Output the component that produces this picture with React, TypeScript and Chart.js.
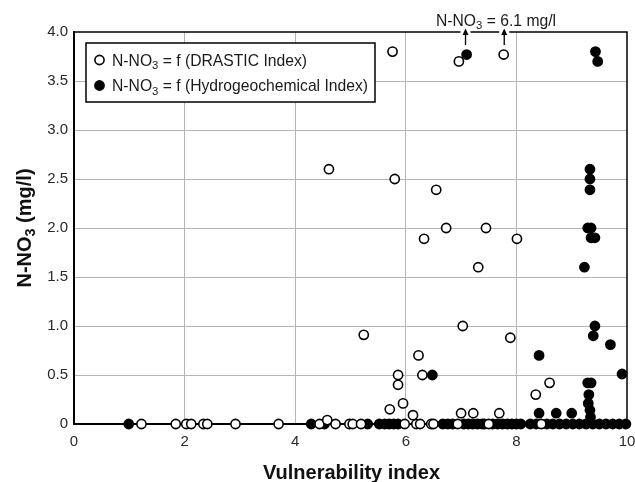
import React, { useEffect, useRef } from "react";
import { Chart, registerables } from "chart.js";
Chart.register(...registerables);

// DRASTIC index series (open circles)
const drasticIndex = [
  1.22, 1.84, 2.03, 2.12, 2.34, 2.41, 2.92, 3.7, 4.44, 4.73, 4.98, 5.04, 5.19, 5.98, 6.19, 6.26, 6.46, 6.5, 6.94, 7.5, 8.45,
  4.58, 5.71, 5.95, 6.13, 7.0, 7.22, 7.69, 5.24, 7.03, 6.23, 5.86, 5.86, 6.3, 7.89, 8.6, 8.35,
  4.61, 5.8, 6.55, 6.33, 6.73, 7.45, 8.01, 7.31, 6.96, 7.77, 5.76,
];
const drasticNitrate = [
  0, 0, 0, 0, 0, 0, 0, 0, 0, 0, 0, 0, 0, 0, 0, 0, 0, 0, 0, 0, 0,
  0.04, 0.15, 0.21, 0.09, 0.11, 0.11, 0.11, 0.91, 1.0, 0.7, 0.5, 0.4, 0.5, 0.88, 0.42, 0.3,
  2.6, 2.5, 2.39, 1.89, 2.0, 2.0, 1.89, 1.6, 3.7, 3.77, 3.8,
];

// Hydrogeochemical index series (filled circles)
const hydroIndex = [
  0.99, 4.29, 4.53, 5.31, 5.52, 5.62, 5.7, 5.78, 5.86, 6.67, 6.76, 6.85, 7.05, 7.13, 7.21, 7.3, 7.38, 7.42, 7.57, 7.66,
  7.75, 7.84, 7.92, 8.0, 8.08, 8.25, 8.36, 8.55, 8.66, 8.78, 8.9, 9.02, 9.14, 9.26, 9.38, 9.5, 9.62, 9.74, 9.86, 9.98,
  6.48, 8.41, 9.42, 9.39, 9.7, 9.91, 9.29, 9.35, 9.31, 9.3, 9.33, 9.34, 8.41, 8.72, 9.0,
  9.33, 9.33, 9.33, 9.29, 9.35, 9.35, 9.42, 9.23, 7.1, 9.43, 9.47,
];
const hydroNitrate = [
  0, 0, 0, 0, 0, 0, 0, 0, 0, 0, 0, 0, 0, 0, 0, 0, 0, 0, 0, 0,
  0, 0, 0, 0, 0, 0, 0, 0, 0, 0, 0, 0, 0, 0, 0, 0, 0, 0, 0, 0,
  0.5, 0.7, 1.0, 0.9, 0.81, 0.51, 0.42, 0.42, 0.3, 0.21, 0.14, 0.07, 0.11, 0.11, 0.11,
  2.6, 2.5, 2.39, 2.0, 2.0, 1.9, 1.9, 1.6, 3.77, 3.8, 3.7,
];

// Off-scale points (6.1 mg/l) marked with arrows
const offScaleIndex = [7.08, 7.78];
const offScaleLabel = "N-NO_3 = 6.1 mg/l";

const xTickValues = [0, 2, 4, 6, 8, 10];
const xTickLabels = ["0", "2", "4", "6", "8", "10"];
const yTickValues = [0, 0.5, 1, 1.5, 2, 2.5, 3, 3.5, 4];
const yTickLabels = ["0", "0.5", "1.0", "1.5", "2.0", "2.5", "3.0", "3.5", "4.0"];

const seriesLabels = ["N-NO_3 = f (DRASTIC Index)", "N-NO_3 = f (Hydrogeochemical Index)"];
const xTitle = "Vulnerability index";
const yTitle = "N-NO_3 (mg/l)";

const FONT = "'Liberation Sans', Arial, sans-serif";
const GRID = "#b5b5b5";
const TICK = "#2a2a2a";

type Part = { t: string; sub: boolean };
function parse(s: string): Part[] {
  const out: Part[] = [];
  const re = /_(\d)/g;
  let last = 0;
  let m: RegExpExecArray | null;
  while ((m = re.exec(s))) {
    if (m.index > last) out.push({ t: s.slice(last, m.index), sub: false });
    out.push({ t: m[1], sub: true });
    last = m.index + m[0].length;
  }
  if (last < s.length) out.push({ t: s.slice(last), sub: false });
  return out;
}
function fontStr(size: number, bold: boolean) {
  return `${bold ? "bold " : ""}${size}px ${FONT}`;
}
function richWidth(ctx: CanvasRenderingContext2D, parts: Part[], size: number, bold: boolean) {
  let w = 0;
  for (const p of parts) {
    ctx.font = fontStr(p.sub ? size * 0.72 : size, bold);
    w += ctx.measureText(p.t).width;
  }
  return w;
}
function drawRich(
  ctx: CanvasRenderingContext2D, s: string, x: number, y: number, size: number, bold: boolean,
  align: "left" | "center", color: string
) {
  const parts = parse(s);
  let cx = align === "center" ? x - richWidth(ctx, parts, size, bold) / 2 : x;
  ctx.fillStyle = color;
  ctx.textAlign = "left";
  ctx.textBaseline = "alphabetic";
  for (const p of parts) {
    ctx.font = fontStr(p.sub ? size * 0.72 : size, bold);
    ctx.fillText(p.t, cx, p.sub ? y + size * 0.22 : y);
    cx += ctx.measureText(p.t).width;
  }
}

const decorPlugin = {
  id: "decor",
  afterDraw(chart: any) {
    const ctx: CanvasRenderingContext2D = chart.ctx;
    const a = chart.chartArea;
    const xs = chart.scales.x;
    ctx.save();
    // top & right frame
    ctx.strokeStyle = "#000";
    ctx.lineWidth = 1.5;
    ctx.beginPath();
    ctx.moveTo(a.left, a.top);
    ctx.lineTo(a.right, a.top);
    ctx.lineTo(a.right, a.bottom);
    ctx.stroke();

    // legend
    const lx = 86, ly = 43, lw = 289, lh = 59;
    ctx.fillStyle = "#fff";
    ctx.fillRect(lx, ly, lw, lh);
    ctx.lineWidth = 1.5;
    ctx.strokeStyle = "#000";
    ctx.strokeRect(lx, ly, lw, lh);
    const rows = [60, 85.5];
    rows.forEach((ry, i) => {
      ctx.beginPath();
      ctx.arc(99.5, ry, 4.6, 0, Math.PI * 2);
      ctx.fillStyle = i === 0 ? "#fff" : "#000";
      ctx.fill();
      ctx.lineWidth = 1.6;
      ctx.strokeStyle = "#000";
      ctx.stroke();
      drawRich(ctx, seriesLabels[i], 112, ry + 5.7, 15.7, false, "left", "#1a1a1a");
    });

    // off-scale annotation
    drawRich(ctx, offScaleLabel, 496, 26, 15.7, false, "center", "#1a1a1a");
    offScaleIndex.forEach((v) => {
      const px = xs.getPixelForValue(v);
      ctx.fillStyle = "#fff";
      ctx.fillRect(px - 5, a.top - 3, 10, 6);
      ctx.strokeStyle = "#000";
      ctx.lineWidth = 1.3;
      ctx.beginPath();
      ctx.moveTo(px, a.top + 13);
      ctx.lineTo(px, a.top - 1);
      ctx.stroke();
      ctx.fillStyle = "#000";
      ctx.beginPath();
      ctx.moveTo(px, a.top - 3.5);
      ctx.lineTo(px - 3, a.top + 3);
      ctx.lineTo(px + 3, a.top + 3);
      ctx.closePath();
      ctx.fill();
    });

    // axis titles
    drawRich(ctx, xTitle, (a.left + a.right) / 2 + 1, 479, 20, true, "center", "#111");
    ctx.save();
    ctx.translate(30.5, (a.top + a.bottom) / 2);
    ctx.rotate(-Math.PI / 2);
    drawRich(ctx, yTitle, 0, 0, 20, true, "center", "#111");
    ctx.restore();
    ctx.restore();
  },
};

export default function App() {
  const ref = useRef<HTMLCanvasElement | null>(null);
  useEffect(() => {
    document.body.style.margin = "0";
    if (!ref.current) return;
    const chart = new Chart(ref.current, {
      type: "scatter",
      data: {
        datasets: [
          {
            label: seriesLabels[0],
            data: drasticIndex.map((x, i) => ({ x, y: drasticNitrate[i] })),
            backgroundColor: "#fff",
            borderColor: "#000",
            borderWidth: 1.6,
            pointRadius: 4.6,
            clip: false as any,
          },
          {
            label: seriesLabels[1],
            data: hydroIndex.map((x, i) => ({ x, y: hydroNitrate[i] })),
            backgroundColor: "#000",
            borderColor: "#000",
            borderWidth: 1.6,
            pointRadius: 4.6,
            clip: false as any,
          },
        ],
      },
      options: {
        animation: false,
        responsive: false,
        maintainAspectRatio: false,
        layout: { padding: { left: 0, right: 8, top: 32, bottom: 0 } },
        plugins: { legend: { display: false }, tooltip: { enabled: false }, title: { display: false } },
        scales: {
          x: {
            type: "linear",
            min: 0,
            max: 10,
            afterFit: (s: any) => { s.height = 58; s.paddingLeft = 0; s.paddingRight = 0; },
            afterBuildTicks: (s: any) => { s.ticks = xTickValues.map((v) => ({ value: v })); },
            ticks: {
              padding: 9,
              color: TICK,
              font: { family: FONT, size: 15 },
              callback: (_v: any, i: number) => xTickLabels[i],
            },
            grid: {
              color: (c: any) => (c.tick && (c.tick.value === 0 || c.tick.value === 10) ? "rgba(0,0,0,0)" : GRID),
              lineWidth: 1,
              drawTicks: false,
            },
            border: { color: "#000", width: 2 },
          },
          y: {
            type: "linear",
            min: 0,
            max: 4,
            afterFit: (s: any) => { s.width = 74; s.paddingTop = 0; s.paddingBottom = 0; },
            afterBuildTicks: (s: any) => { s.ticks = yTickValues.map((v) => ({ value: v })); },
            ticks: {
              padding: 6,
              color: TICK,
              font: { family: FONT, size: 15 },
              callback: (_v: any, i: number) => yTickLabels[i],
            },
            grid: {
              color: (c: any) => (c.tick && (c.tick.value === 0 || c.tick.value === 4) ? "rgba(0,0,0,0)" : GRID),
              lineWidth: 1,
              drawTicks: false,
            },
            border: { color: "#000", width: 2 },
          },
        },
      },
      plugins: [decorPlugin],
    });
    return () => chart.destroy();
  }, []);
  return (
    <div style={{ width: 635, height: 482 }}>
      <canvas ref={ref} width={635} height={482} style={{ display: "block" }} />
    </div>
  );
}
